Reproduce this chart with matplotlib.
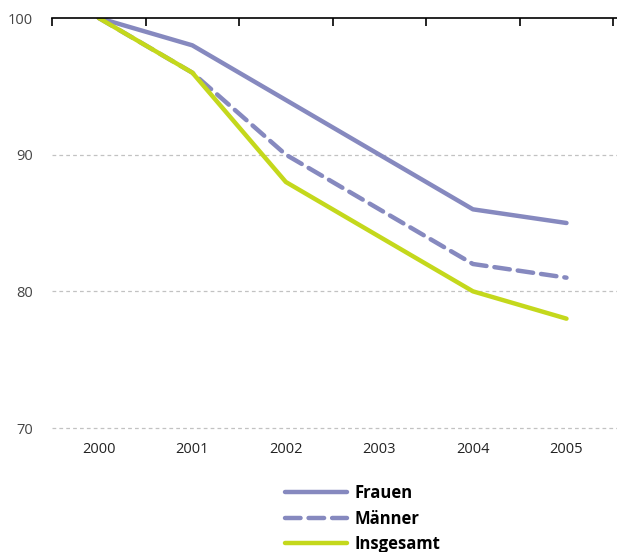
import numpy as np
import matplotlib.pyplot as plt
from matplotlib.ticker import FixedLocator

plt.rcParams['font.family'] = ['Open Sans', 'DejaVu Sans']

# Дані
years = ['2000', '2001', '2002', '2003', '2004', '2005']
frauen = [100, 98, 94, 90, 86, 85]
maenner = [100, 96, 90, 86, 82, 81]
insgesamt = [100, 96, 88, 84, 80, 78]

blue = '#8689bf'
green = '#c4d81c'

fig = plt.figure(figsize=(6.17, 5.52), dpi=100)
ax = fig.add_axes([52 / 617, 1 - 428 / 552, 1 - 52 / 617, (428 - 18) / 552])

x = np.arange(len(years))
ax.plot(x, frauen, color=blue, lw=3.2, label='Frauen', solid_capstyle='round')
ax.plot(x, maenner, color=blue, lw=3.2, ls=(0, (3.5, 1.8)), label='Männer',
        dash_capstyle='round')
ax.plot(x, insgesamt, color=green, lw=3.2, label='Insgesamt', solid_capstyle='round')

ax.set_xlim(-0.5, 5.54)
ax.set_ylim(70, 100)

# сітка
for v in [70, 80, 90]:
    ax.axhline(v, color='#c2c2c2', lw=0.9, ls=(0, (3, 2.5)), zorder=0, clip_on=False)

for s in ['left', 'right', 'bottom']:
    ax.spines[s].set_visible(False)
ax.spines['top'].set_color('black')
ax.spines['top'].set_linewidth(1.2)

# мітки на верхній лінії між категоріями
ax.xaxis.set_major_locator(FixedLocator(x))
ax.set_xticklabels(years, fontsize=10.5, color='#222222')
ax.tick_params(axis='x', which='major', length=0, pad=10)
ax.xaxis.set_minor_locator(FixedLocator(np.arange(-0.5, 5.6, 1.0)))
ax.tick_params(axis='x', which='minor', top=True, bottom=False, direction='in',
               length=6, width=1.2, color='black')

ax.set_yticks([70, 80, 90, 100])
ax.set_yticklabels(['70', '80', '90', '100'], fontsize=10.5, color='#444444')
ax.tick_params(axis='y', length=0, pad=13.5)

leg = fig.legend(loc='upper left', bbox_to_anchor=(285 / 617, 1 - 484 / 552),
                 frameon=False, handlelength=3.7, labelspacing=0.45,
                 handletextpad=0.5, borderpad=0, borderaxespad=0,
                 prop={'weight': 'bold', 'size': 12})

fig.savefig('out.png', dpi=100)
